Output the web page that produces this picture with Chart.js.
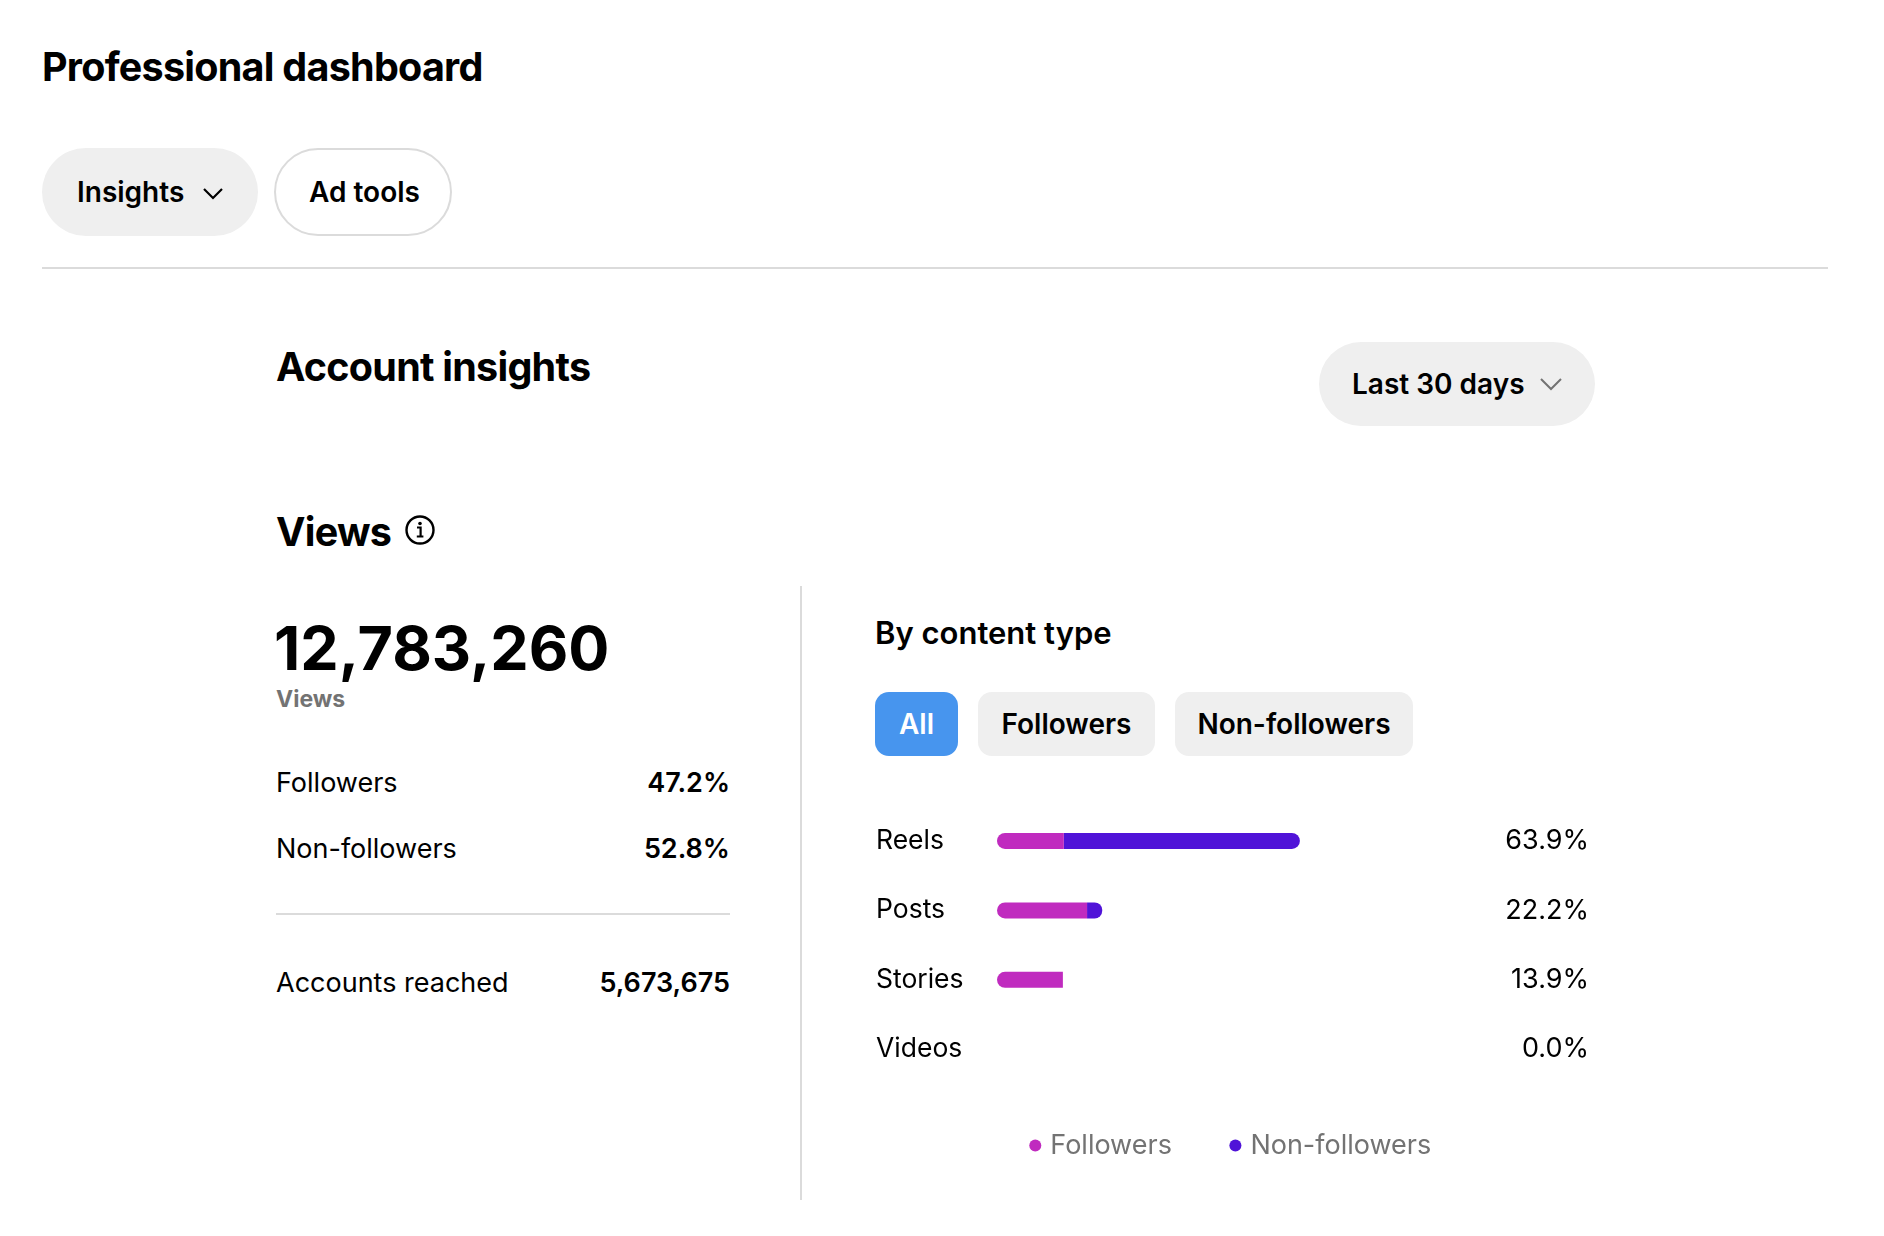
<!DOCTYPE html>
<html>
<head>
<meta charset="utf-8">
<script src="https://cdn.jsdelivr.net/npm/chart.js@4.4.1/dist/chart.umd.min.js"></script>
<style>
  body { margin: 0; width: 1884px; height: 1236px; background: #fff; font-family: Inter, "Noto Sans", sans-serif; color: #000; position: relative; overflow: hidden; }
  .t { position: absolute; line-height: 1; white-space: nowrap; }
  .h1 { font-size: 39.5px; font-weight: 700; letter-spacing: -0.75px; }
  .pill { position: absolute; box-sizing: border-box; font-size: 28px; font-weight: 600; }
  .pill span { position: absolute; line-height: 1; top: 50%; transform: translateY(-50%); white-space: nowrap; }
  .rule { position: absolute; background: #dbdbdb; }
  .row { position: absolute; left: 276px; width: 454px; display: flex; justify-content: space-between; font-size: 27px; line-height: 1; }
  .row b { font-weight: 600; }
  .chip { position: absolute; top: 692px; height: 64px; border-radius: 14px; background: #efefef; font-size: 28px; font-weight: 600; display: flex; align-items: center; justify-content: center; }
  #chartBox { position: absolute; left: 876px; top: 787px; width: 713px; height: 396px; }
</style>
</head>
<body>
  <div class="t h1" style="left:42px; top:47.75px;">Professional dashboard</div>

  <div class="pill" style="left:42px; top:148px; width:216px; height:88px; border-radius:44px; background:#efefef;">
    <span style="left:35px;">Insights</span>
    <svg style="position:absolute; left:160px; top:39px;" width="22" height="13" viewBox="0 0 22 13"><polyline points="2,2 11,11 20,2" fill="none" stroke="#000" stroke-width="2.2"/></svg>
  </div>
  <div class="pill" style="left:274px; top:148px; width:178px; height:88px; border-radius:44px; border:2px solid #dbdbdb; background:#fff;">
    <span style="left:33px;">Ad tools</span>
  </div>

  <div class="rule" style="left:42px; top:267px; width:1786px; height:2px;"></div>

  <div class="t h1" style="left:276px; top:347.75px;">Account insights</div>

  <div class="pill" style="left:1319px; top:342px; width:276px; height:84px; border-radius:42px; background:#efefef;">
    <span style="left:33px;">Last 30 days</span>
    <svg style="position:absolute; left:220px; top:35px;" width="24" height="14" viewBox="0 0 24 14"><polyline points="2,2 12,12 22,2" fill="none" stroke="#737373" stroke-width="2"/></svg>
  </div>

  <div class="t h1" style="left:276px; top:512.75px;">Views</div>
  <svg style="position:absolute; left:404px; top:514px;" width="32" height="32" viewBox="0 0 32 32">
    <circle cx="16" cy="16" r="13.5" fill="none" stroke="#000" stroke-width="2.4"/>
    <circle cx="16" cy="9.5" r="1.8" fill="#000"/>
    <path d="M13 13.5 H16.6 V22 M12.8 22.5 H19.4" fill="none" stroke="#000" stroke-width="2.2"/>
  </svg>

  <div class="rule" style="left:800px; top:586px; width:2px; height:614px;"></div>

  <div class="t" style="left:274px; top:617.5px; font-size:61px; font-weight:700; letter-spacing:0px;">12,783,260</div>
  <div class="t" style="left:276px; top:688px; font-size:23px; font-weight:700; color:#737373;">Views</div>

  <div class="row" style="top:768.5px;"><span>Followers</span><b>47.2%</b></div>
  <div class="row" style="top:835px;"><span>Non-followers</span><b>52.8%</b></div>
  <div class="rule" style="left:276px; top:913px; width:454px; height:2px;"></div>
  <div class="row" style="top:969px;"><span>Accounts reached</span><b>5,673,675</b></div>

  <div class="t" style="left:875px; top:617px; font-size:31px; font-weight:600;">By content type</div>

  <div class="chip" style="left:875px; width:83px; background:#4795ee; color:#fff;">All</div>
  <div class="chip" style="left:978px; width:177px;">Followers</div>
  <div class="chip" style="left:1175px; width:238px;">Non-followers</div>

  <div id="chartBox"><canvas id="contentChart"></canvas></div>

<script>
// views share by content type, in percent of all views
const contentTypes = ['Reels', 'Posts', 'Stories', 'Videos'];
const followerShare = [14.1, 19.0, 13.9, 0.0];
const nonFollowerShare = [49.8, 3.2, 0.0, 0.0];
const totalShare = [63.9, 22.2, 13.9, 0.0];
const totalLabels = totalShare.map(v => v.toFixed(1) + '%');

const pink = '#c02bbf';
const violet = '#5013d8';

// the legend sits a bit closer to the bars than Chart.js puts it
const liftLegend = {
    id: 'liftLegend',
    afterLayout(chart) {
        chart.legend.top -= 14;
        chart.legend.bottom -= 14;
    }
};

const ctx = document.getElementById('contentChart').getContext('2d');
const contentChart = new Chart(ctx, {
    type: 'bar',
    data: {
        labels: contentTypes,
        datasets: [{
            label: 'Followers',
            data: followerShare,
            backgroundColor: pink,
            borderRadius: { topLeft: 8, bottomLeft: 8, topRight: 0, bottomRight: 0 },
            borderSkipped: false,
            inflateAmount: 0,
            barThickness: 16
        }, {
            label: 'Non-followers',
            data: nonFollowerShare,
            backgroundColor: violet,
            borderRadius: { topLeft: 0, bottomLeft: 0, topRight: 8, bottomRight: 8 },
            borderSkipped: false,
            inflateAmount: 0,
            barThickness: 16
        }]
    },
    options: {
        indexAxis: 'y',
        responsive: true,
        maintainAspectRatio: false,
        animation: false,
        layout: { padding: { top: 10, left: 0, right: 0, bottom: 0 } },
        scales: {
            x: {
                stacked: true,
                min: 0,
                max: 100,
                display: false
            },
            y: {
                stacked: true,
                position: 'left',
                grid: { display: false },
                border: { display: false },
                ticks: {
                    crossAlign: 'far',
                    color: '#000',
                    font: { family: 'Inter', size: 26.5 }
                },
                afterFit: (scale) => { scale.width = 121; }
            },
            yTotal: {
                type: 'category',
                position: 'right',
                labels: totalLabels,
                grid: { display: false },
                border: { display: false },
                ticks: {
                    crossAlign: 'far',
                    color: '#000',
                    font: { family: 'Inter', size: 27 }
                },
                afterFit: (scale) => { scale.width = 118; }
            }
        },
        plugins: {
            legend: {
                position: 'bottom',
                labels: {
                    usePointStyle: true,
                    pointStyle: 'circle',
                    boxWidth: 3,
                    boxHeight: 8.5,
                    padding: 62,
                    color: '#737373',
                    font: { family: 'Inter', size: 27 }
                }
            },
            tooltip: { enabled: false }
        }
    },
    plugins: [liftLegend]
});
</script>
</body>
</html>
